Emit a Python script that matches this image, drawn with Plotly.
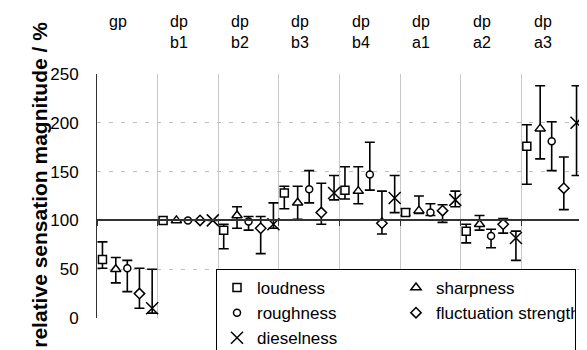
import plotly.graph_objects as go

# ---- data ----
groups = ["gp", "dp<br>b1", "dp<br>b2", "dp<br>b3", "dp<br>b4", "dp<br>a1", "dp<br>a2", "dp<br>a3"]
series = ["loudness", "sharpness", "roughness", "fluctuation strength", "dieselness"]

loudness = [60, 100, 90, 128, 131, 108, 89, 176]
loud_hi = [78, 100, 96, 135, 155, 112, 96, 198]
loud_lo = [51, 100, 71, 112, 122, 105, 77, 137]

sharpness = [50, 100, 105, 118, 130, 110, 96, 194]
sharp_hi = [62, 100, 114, 135, 155, 125, 105, 238]
sharp_lo = [36, 100, 92, 101, 117, 107, 90, 163]

roughness = [51, 100, 99, 132, 147, 108, 84, 181]
rough_hi = [59, 100, 104, 151, 180, 117, 91, 201]
rough_lo = [27, 100, 90, 118, 131, 105, 72, 151]

fluctuation = [25, 100, 92, 108, 97, 110, 96, 133]
fluct_hi = [51, 100, 104, 138, 130, 116, 102, 165]
fluct_lo = [10, 100, 66, 96, 86, 98, 87, 111]

dieselness = [10, 100, 96, 128, 123, 121, 82, 200]
diesel_hi = [50, 100, 118, 146, 146, 130, 89, 238]
diesel_lo = [5, 100, 92, 121, 108, 114, 59, 146]

y_ticks = [0, 50, 100, 150, 200, 250]
x_axis_crossing = 100

# ---- styling ----
offsets = [0.09, 0.31, 0.5, 0.7, 0.91]
symbols = ["square", "triangle-up", "circle", "diamond", "x-thin-open"]
sizes = [8, 9, 7, 8, 12]
FONT = "Liberation Sans, Arial, sans-serif"
W, H = 587, 350
PAGE_OFF = 8  # default body margin of the html page
L, R, T, B = 97 - PAGE_OFF, 5 + PAGE_OFF, 74 - PAGE_OFF, 32 + PAGE_OFF
Y_MAX = 250

values = [loudness, sharpness, roughness, fluctuation, dieselness]
highs = [loud_hi, sharp_hi, rough_hi, fluct_hi, diesel_hi]
lows = [loud_lo, sharp_lo, rough_lo, fluct_lo, diesel_lo]

fig = go.Figure()
for k, name in enumerate(series):
    vals = values[k]
    xs = [i + offsets[k] for i in range(len(groups))]
    plus = [h - v for h, v in zip(highs[k], vals)]
    minus = [v - l for l, v in zip(lows[k], vals)]
    is_x = symbols[k].startswith("x")
    fig.add_trace(go.Scatter(
        x=xs, y=vals, name=name, mode="markers",
        marker=dict(symbol=symbols[k], size=sizes[k],
                    color="black" if is_x else "white",
                    line=dict(color="black", width=1.5)),
        error_y=dict(type="data", symmetric=False, array=plus, arrayminus=minus,
                     color="black", thickness=1.6, width=5),
    ))

# top category labels
for i, g in enumerate(groups):
    fig.add_annotation(x=i + 0.5, xref="x", y=1.257, yref="paper", yanchor="top",
                       text=g, showarrow=False, xshift=-9,
                       font=dict(family=FONT, size=16, color="black"))

# y title
fig.add_annotation(x=-0.148, xref="paper", y=0.545, yref="paper",
                   text="<b>relative sensation magnitude / %</b>", textangle=-90,
                   showarrow=False, font=dict(family=FONT, size=21, color="black"))

fig.update_layout(
    width=W, height=H,
    margin=dict(l=L, r=R, t=T, b=B, autoexpand=False),
    paper_bgcolor="white", plot_bgcolor="white",
    font=dict(family=FONT, size=17, color="black"),
    showlegend=True,
    legend=dict(orientation="h", xref="container", x=(216 - PAGE_OFF) / W, xanchor="left",
                yref="container", y=1 - (269 - PAGE_OFF) / H, yanchor="top",
                entrywidth=134, entrywidthmode="pixels",
                bgcolor="white", bordercolor="black", borderwidth=1,
                font=dict(family=FONT, size=17, color="black"),
                traceorder="normal"),
)
# category axis crosses the value axis at 100
fig.update_xaxes(range=[0, len(groups)], tickvals=list(range(len(groups) + 1)),
                 showticklabels=False, showgrid=True, gridcolor="#c8c8c8", gridwidth=1,
                 anchor="free", position=x_axis_crossing / Y_MAX,
                 showline=True, linecolor="#333333", linewidth=1.5, automargin=False,
                 ticks="outside", ticklen=5, tickcolor="#333333", zeroline=False)
fig.update_yaxes(range=[0, Y_MAX], tickvals=y_ticks, showgrid=True, gridcolor="#c0c0c0",
                 griddash="4px,8px", gridwidth=1, zeroline=False, automargin=False,
                 showline=True, linecolor="#333333", linewidth=1,
                 ticks="", ticklabelstandoff=14,
                 tickfont=dict(family=FONT, size=17, color="black"))

fig.write_html("out.html")
